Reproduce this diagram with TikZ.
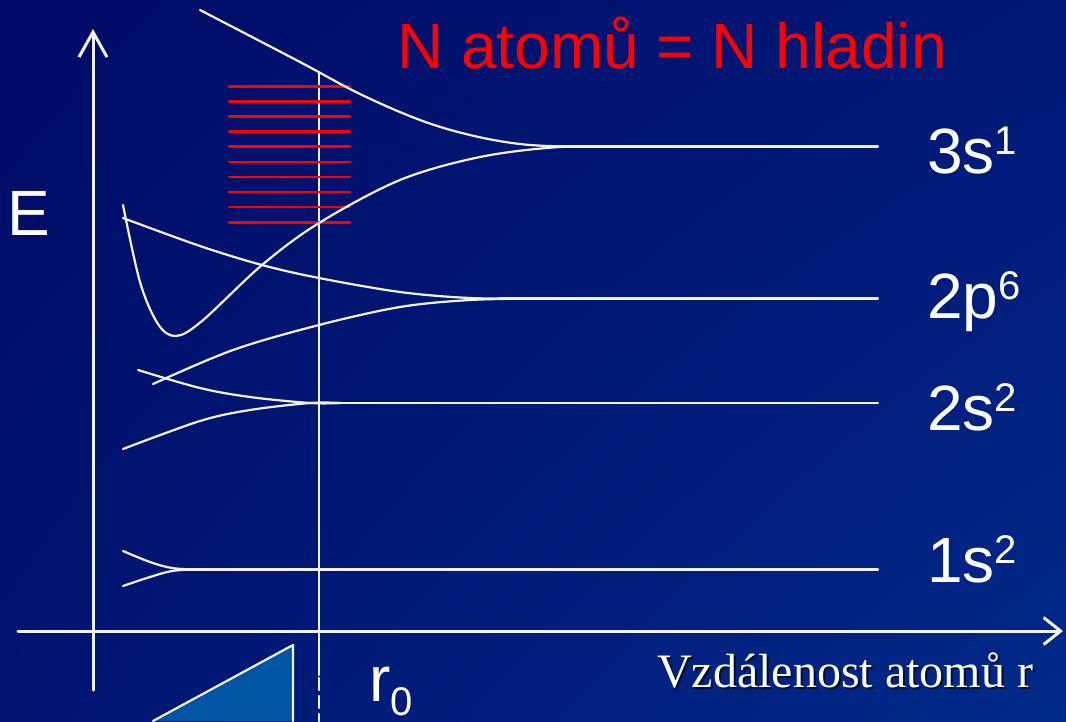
\documentclass[tikz,border=0pt]{standalone}
\usepackage{fontspec}
\setmainfont{Liberation Sans}
\newfontfamily\patkove{Liberation Serif}
\usetikzlibrary{arrows.meta,shadings}
\definecolor{pozadiA}{RGB}{0,11,102}
\definecolor{pozadiB}{RGB}{0,24,118}
\definecolor{pozadiC}{RGB}{0,20,112}
\definecolor{pozadiD}{RGB}{0,42,138}
\definecolor{klin}{RGB}{0,86,164}
\newcommand{\hladina}[2]{#1\raisebox{19pt}{\fontsize{40}{40}\selectfont #2}}
\begin{document}
\begin{tikzpicture}[x=1pt,y=-1pt,line join=round,line cap=round]
	\tikzset{every node/.style={inner sep=0pt,text=white,anchor=base west},
		velky/.style={font=\fontsize{64}{70}\selectfont},
		pas/.style={white!95!black,line width=2.2pt},
		cara/.style={red,line width=2.6pt}}
	\def\xmin{0} \def\xmax{1066}
	\def\ymin{0} \def\ymax{721}
	\def\rnula{319} \def\konec{878}
	
	% --- Pozadí ---
	\shade[upper left=pozadiA,upper right=pozadiB,lower left=pozadiC,lower right=pozadiD]
	(\xmin,\ymin) rectangle (\xmax,\ymax);
	\useasboundingbox (\xmin,\ymin) rectangle (\xmax,\ymax);
	
	% --- Osy ---
	\draw[white!95!black,line width=3pt,-{Straight Barb[length=25pt,width=28pt]}] (93,690)--(93,29);
	\draw[white!95!black,line width=3pt,-{Straight Barb[length=17pt,width=27pt]}] (18,631)--(1063,631);
	\node[velky] (E) at (7,235) {E};
	\node[font=\patkove\fontsize{48}{52}\selectfont,text=black,opacity=.6] (stin) at (659,689) {Vzdálenost atomů r};
	\node[font=\patkove\fontsize{48}{52}\selectfont] (osax) at (657,687) {Vzdálenost atomů r};
	
	% --- Rovnovážná vzdálenost r0 ---
	\begin{scope}
		\clip (\xmin,\ymin) rectangle (\xmax,\ymax);
		\filldraw[klin,draw=none] (153,721)--(293,645)--(293,721)--cycle;
		\draw[pas] (153,721)--(293,645)--(293,721);
	\end{scope}
	\draw[pas] (\rnula,72)--(\rnula,675);
	\draw[pas,dashed,dash pattern=on 12pt off 6pt] (\rnula,678)--(\rnula,721);
	\node[velky] (r0) at (369,701) {r\raisebox{-14pt}{\fontsize{40}{40}\selectfont 0}};
	
	% --- Pás 3s ---
	\foreach \i in {0,...,9}
	\draw[cara] (229,86.3+15.1*\i)--(350,86.3+15.1*\i);
	\draw[pas] plot[smooth,tension=.6] coordinates {(200,10) (300,62) (360,94) (420,120) (470,135) (520,144) (570,146.5) (640,146.5)};
	\draw[pas] plot[smooth,tension=.55] coordinates {(123,205) (140,282) (158,324) (176,336) (202,321) (262,265) (319,223) (400,180) (480,157) (560,147) (640,146.5)};
	\draw[pas] (560,146.5)--(\konec,146.5);
	\node[velky] (s3) at (927,173) {\hladina{3s}{1}};
	
	% --- Pás 2p ---
	\draw[pas] plot[smooth,tension=.55] coordinates {(123,218) (200,246) (262,265) (319,278) (400,292) (470,298) (540,298.5)};
	\draw[pas] plot[smooth,tension=.55] coordinates {(153,384) (233,350) (319,325) (400,307) (470,300) (540,298.5)};
	\draw[pas] (500,298.5)--(\konec,298.5);
	\node[velky] (p2) at (927,318) {\hladina{2p}{6}};
	
	% --- Pás 2s ---
	\draw[pas] plot[smooth,tension=.55] coordinates {(138,370) (200,388) (250,397) (310,403) (340,403)};
	\draw[pas] plot[smooth,tension=.55] coordinates {(123,449) (200,421) (250,410) (310,403) (340,403)};
	\draw[pas] (300,403)--(\konec,403);
	\node[velky] (s2) at (927,430) {\hladina{2s}{2}};
	
	% --- Pás 1s ---
	\draw[pas] plot[smooth,tension=.6] coordinates {(123,551) (150,562) (172,568) (195,569.5)};
	\draw[pas] plot[smooth,tension=.6] coordinates {(123,586) (150,577) (172,571) (195,569.5)};
	\draw[pas] (185,569.5)--(\konec,569.5);
	\node[velky] (s1) at (927,582) {\hladina{1s}{2}};
	
	\node[velky,text=red] (nadpis) at (397,68) {N atomů = N hladin};
\end{tikzpicture}
\end{document}
